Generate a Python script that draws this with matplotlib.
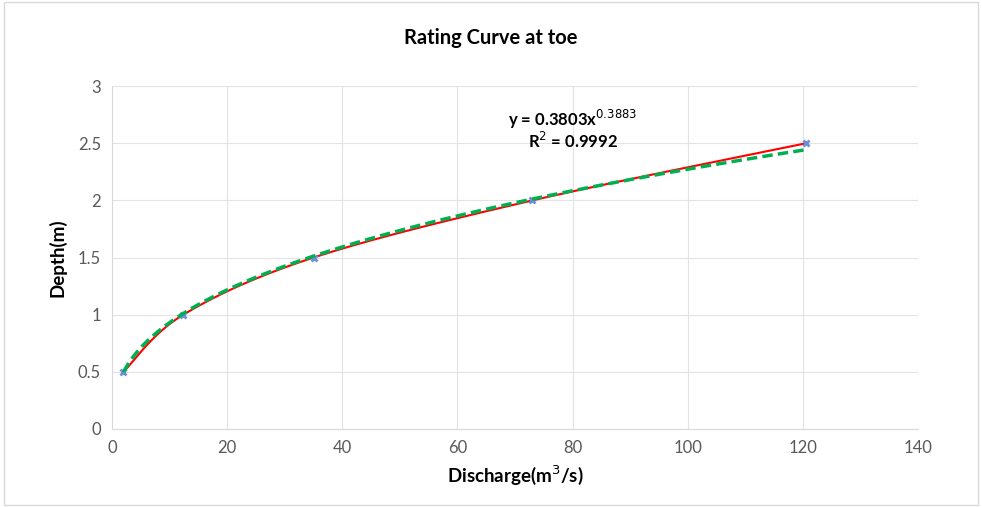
import numpy as np
import matplotlib.pyplot as plt

discharge = [2.0, 12.4, 35.0, 73.0, 120.5]
depth = [0.5, 1.0, 1.5, 2.0, 2.5]
fit_a = 0.3803
fit_b = 0.3883
x_ticks = [0, 20, 40, 60, 80, 100, 120, 140]
y_ticks = [0, 0.5, 1, 1.5, 2, 2.5, 3]

plt.rcParams['font.family'] = ['Lato', 'DejaVu Sans']


def smooth(xs, ys, n=40):
    # catmull-rom style smoothing like excel's smoothed line
    xs = np.asarray(xs, float)
    ys = np.asarray(ys, float)
    px = np.concatenate([[xs[0]], xs, [xs[-1]]])
    py = np.concatenate([[ys[0]], ys, [ys[-1]]])
    outx, outy = [], []
    t = np.linspace(0, 1, n)
    for i in range(1, len(px) - 2):
        p0 = np.array([px[i - 1], py[i - 1]])
        p1 = np.array([px[i], py[i]])
        p2 = np.array([px[i + 1], py[i + 1]])
        p3 = np.array([px[i + 2], py[i + 2]])
        c1 = p1 + (p2 - p0) / 6.0
        c2 = p2 - (p3 - p1) / 6.0
        b = ((1 - t) ** 3)[:, None] * p1 + (3 * (1 - t) ** 2 * t)[:, None] * c1 \
            + (3 * (1 - t) * t ** 2)[:, None] * c2 + (t ** 3)[:, None] * p2
        outx.extend(b[:, 0])
        outy.extend(b[:, 1])
    return outx, outy


fig = plt.figure(figsize=(9.82, 5.07), dpi=100)
ax = fig.add_axes([0.114, 0.154, 0.821, 0.676])

sx, sy = smooth(discharge, depth)
ax.plot(sx, sy, color='#FF0000', lw=1.5, zorder=3)
ax.plot(discharge, depth, ls='none', marker='x', color='#6A8FD8', ms=5, mew=2, zorder=4)

tx = np.linspace(discharge[0], discharge[-1], 200)
ax.plot(tx, fit_a * tx ** fit_b, color='#00B050', lw=2.5, ls=(0, (3, 1.5)), zorder=5)

ax.text(80, 2.71, 'y = 0.3803x$^{0.3883}$', ha='center', va='center',
        fontsize=12, fontweight='bold', color='#000000')
ax.text(80, 2.52, 'R$^{2}$ = 0.9992', ha='center', va='center',
        fontsize=12, fontweight='bold', color='#000000')

ax.set_xlim(0, 140)
ax.set_ylim(0, 3)
ax.set_xticks(x_ticks)
ax.set_yticks(y_ticks)
ax.set_yticklabels(['0', '0.5', '1', '1.5', '2', '2.5', '3'])
ax.grid(True, color='#E3E3E3', lw=0.8)
ax.set_axisbelow(True)
for s in ['top', 'right']:
    ax.spines[s].set_visible(False)
for s in ['left', 'bottom']:
    ax.spines[s].set_color('#D9D9D9')
ax.tick_params(length=0, labelsize=12, labelcolor='#595959', pad=8)

ax.set_xlabel('Discharge(m$^{3}$/s)', fontsize=13.5, fontweight='bold', labelpad=5)
ax.set_ylabel('Depth(m)', fontsize=13.5, fontweight='bold', labelpad=8)
fig.text(0.5, 0.925, 'Rating Curve at toe', ha='center', va='center',
         fontsize=14.5, fontweight='bold', color='#000000')

fig.patches.append(plt.Rectangle((0.004, 0.004), 0.992, 0.992, transform=fig.transFigure,
                                 fill=False, edgecolor='#D9D9D9', lw=1))

fig.savefig('out.png', dpi=100)
